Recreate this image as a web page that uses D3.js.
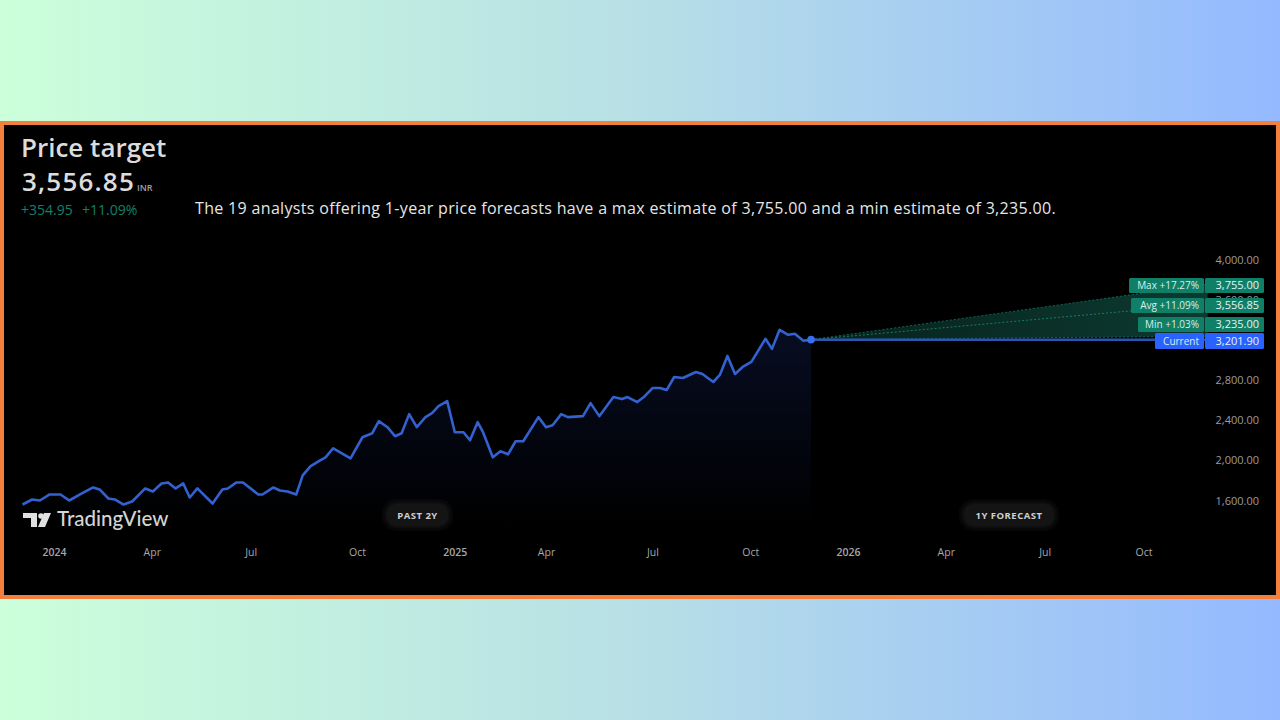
<!DOCTYPE html>
<html>
<head>
<meta charset="utf-8">
<script src="https://cdn.jsdelivr.net/npm/d3@7.9.0/dist/d3.min.js"></script>
<style>
  html, body { margin: 0; padding: 0; background: #000; overflow: hidden; }
  svg { display: block; }
  text { font-family: "Open Sans", "Noto Sans", sans-serif; }
</style>
</head>
<body>
<svg id="chart" width="1280" height="720"></svg>
<script>
// days since 1 Jan 2024 and the close
const closeDays = [-29,-20,-13,-4,6,14,24,36,42,50,56,64,72,84,91,99,105,112,119,125,132,146,155,160,168,174,188,192,202,208,215,223,229,236,245,250,257,265,273,284,293,299,307,314,320,327,334,342,348,354,362,369,377,383,390,395,404,411,418,425,432,446,453,459,467,473,487,494,502,515,523,528,537,543,551,558,564,571,579,591,597,607,613,620,627,634,642,655,661,668,676,682,690,697];
const closes = [1560,1610,1600,1660,1660,1600,1660,1730,1710,1620,1610,1560,1590,1720,1690,1770,1780,1720,1770,1630,1720,1570,1710,1720,1780,1780,1660,1660,1730,1700,1690,1660,1850,1940,2000,2030,2120,2070,2020,2230,2270,2390,2330,2240,2270,2460,2330,2430,2470,2540,2590,2280,2280,2200,2380,2280,2030,2090,2060,2190,2190,2430,2330,2350,2460,2430,2440,2570,2440,2630,2610,2630,2580,2630,2720,2720,2700,2830,2820,2880,2860,2780,2850,3040,2860,2930,2980,3210,3110,3300,3250,3260,3190,3201.9];

const tickDays = [0,90,181,279,369,453,551,641,731,821,912,1003];
const tickNames = ['2024','Apr','Jul','Oct','2025','Apr','Jul','Oct','2026','Apr','Jul','Oct'];
const priceTicks = [1600,2000,2400,2800,3200,3600,4000];

const currentPrice = 3201.9;
const maxTarget = 3755;
const avgTarget = 3556.85;
const minTarget = 3235;
const forecastDays = [697, 1062];

const labelNames = ['Max +17.27%','Avg +11.09%','Min +1.03%','Current'];
const labelValues = ['3,755.00','3,556.85','3,235.00','3,201.90'];

const svg = d3.select('#chart');
const defs = svg.append('defs');

const bg = defs.append('linearGradient').attr('id', 'bg');
bg.append('stop').attr('offset', '0%').attr('stop-color', '#ccffda');
bg.append('stop').attr('offset', '50%').attr('stop-color', '#b7dfe6');
bg.append('stop').attr('offset', '100%').attr('stop-color', '#94b9ff');

const under = defs.append('linearGradient').attr('id', 'under').attr('x1', 0).attr('x2', 0).attr('y1', 0).attr('y2', 1);
under.append('stop').attr('offset', '0%').attr('stop-color', '#070d22');
under.append('stop').attr('offset', '100%').attr('stop-color', '#000');

const fan = defs.append('linearGradient').attr('id', 'fan');
fan.append('stop').attr('offset', '0%').attr('stop-color', '#07211c');
fan.append('stop').attr('offset', '100%').attr('stop-color', '#0c3a30');

defs.append('filter').attr('id', 'glow').attr('x', '-30%').attr('y', '-60%').attr('width', '160%').attr('height', '220%')
  .append('feGaussianBlur').attr('stdDeviation', 5);

svg.append('rect').attr('width', 1280).attr('height', 720).attr('fill', 'url(#bg)');
svg.append('rect').attr('x', 2).attr('y', 123).attr('width', 1276).attr('height', 474)
  .attr('fill', '#000').attr('stroke', '#f27f3b').attr('stroke-width', 4);

const xScale = d3.scaleLinear().domain([0, 731]).range([54, 848]);
const yScale = d3.scaleLinear().domain([1600, 4000]).range([500.5, 259.5]);

// area under the past prices
const area = d3.area().x((d, i) => xScale(closeDays[i])).y0(526).y1(d => yScale(d));
svg.append('path').datum(closes).attr('d', area).attr('fill', 'url(#under)');

// forecast fan
const fanArea = d3.area().x(d => xScale(d)).y0((d, i) => yScale(i ? minTarget : currentPrice)).y1((d, i) => yScale(i ? maxTarget : currentPrice));
svg.append('path').datum(forecastDays).attr('d', fanArea).attr('fill', 'url(#fan)');

const fline = d3.line().x((d, i) => xScale(forecastDays[i])).y(d => yScale(d));
svg.append('path').datum([currentPrice, maxTarget]).attr('d', fline).attr('fill', 'none')
  .attr('stroke', '#146352').attr('stroke-width', 1).attr('stroke-dasharray', '2 2');
svg.append('path').datum([currentPrice, avgTarget]).attr('d', fline).attr('fill', 'none')
  .attr('stroke', '#1a7a64').attr('stroke-width', 1).attr('stroke-dasharray', '2 2');
svg.append('path').datum([currentPrice, minTarget]).attr('d', fline).attr('fill', 'none')
  .attr('stroke', '#146352').attr('stroke-width', 1).attr('stroke-dasharray', '2 2');
svg.append('path').datum([currentPrice, currentPrice]).attr('d', fline).attr('fill', 'none')
  .attr('stroke', '#2a56b0').attr('stroke-width', 2.5);

// price line
const line = d3.line().x((d, i) => xScale(closeDays[i])).y(d => yScale(d));
svg.append('path').datum(closes).attr('d', line).attr('fill', 'none')
  .attr('stroke', '#3461d0').attr('stroke-width', 2.6).attr('stroke-linejoin', 'round');
svg.append('circle').attr('cx', xScale(697)).attr('cy', yScale(currentPrice)).attr('r', 3.8).attr('fill', '#3a6cf0');

// axes
const xAxis = d3.axisBottom(xScale).tickValues(tickDays).tickFormat((d, i) => tickNames[i]).tickSize(0);
const xg = svg.append('g').attr('transform', 'translate(0,546)').call(xAxis);
xg.select('.domain').remove();
xg.selectAll('text').attr('fill', '#a8a8a8').attr('font-size', 10.5).attr('font-weight', (d, i) => /^20/.test(tickNames[i]) ? 600 : 400)
  .style('font-family', '"Open Sans", sans-serif');

const yAxis = d3.axisLeft(yScale).tickValues(priceTicks).tickFormat(d3.format(',.2f')).tickSize(0);
const yg = svg.append('g').attr('transform', 'translate(1262,0)').call(yAxis);
yg.select('.domain').remove();
yg.selectAll('text').attr('fill', '#9c9c9c').attr('font-size', 11).style('font-family', '"Open Sans", sans-serif');

// price labels on the right, pushed apart as in the original
const labelY = [278, 298, 317, 333];
const labelH = [15, 15, 15, 16];
const labelLeft = [1129, 1131, 1138, 1155];
const labelFill = ['#0f7f68', '#0f7f68', '#0f7f68', '#2962ff'];
labelNames.forEach((name, i) => {
  const g = svg.append('g');
  g.append('rect').attr('x', labelLeft[i]).attr('y', labelY[i]).attr('width', 1204 - labelLeft[i]).attr('height', labelH[i]).attr('rx', 1.5).attr('fill', labelFill[i]);
  g.append('rect').attr('x', 1205).attr('y', labelY[i]).attr('width', 59).attr('height', labelH[i]).attr('rx', 1.5).attr('fill', labelFill[i]);
  g.append('text').attr('x', 1199).attr('y', labelY[i] + labelH[i] / 2 + 3.5).attr('text-anchor', 'end')
    .attr('font-size', 10).attr('fill', '#d8efe9').text(name);
  g.append('text').attr('x', 1259).attr('y', labelY[i] + labelH[i] / 2 + 3.8).attr('text-anchor', 'end')
    .attr('font-size', 11).attr('fill', '#e6f4f0').text(labelValues[i]);
});

// header
svg.append('text').attr('x', 21).attr('y', 157).attr('font-size', 26).attr('font-weight', 600).attr('fill', '#dcdcdc').text('Price target');
svg.append('text').attr('x', 22).attr('y', 191).attr('font-size', 26).attr('font-weight', 600).attr('letter-spacing', 1.2).attr('fill', '#dcdcdc').text('3,556.85');
svg.append('text').attr('x', 137).attr('y', 191).attr('font-size', 9).attr('font-weight', 600).attr('fill', '#a0a0a0').text('INR');
svg.append('text').attr('x', 21).attr('y', 215).attr('font-size', 14).attr('fill', '#14806a').text('+354.95');
svg.append('text').attr('x', 82).attr('y', 215).attr('font-size', 14).attr('fill', '#14806a').text('+11.09%');
svg.append('text').attr('x', 195).attr('y', 214).attr('font-size', 16).attr('letter-spacing', 0.33).attr('fill', '#e6e6e6')
  .text('The 19 analysts offering 1-year price forecasts have a max estimate of 3,755.00 and a min estimate of 3,235.00.');

// period badges
const badgeNames = ['PAST 2Y', '1Y FORECAST'];
const badgeX = [388, 965];
const badgeW = [59, 88];
badgeNames.forEach((name, i) => {
  svg.append('rect').attr('x', badgeX[i]).attr('y', 505).attr('width', badgeW[i]).attr('height', 20).attr('rx', 6)
    .attr('fill', '#2a2a2a').attr('filter', 'url(#glow)');
  svg.append('rect').attr('x', badgeX[i]).attr('y', 505).attr('width', badgeW[i]).attr('height', 20).attr('rx', 6).attr('fill', '#141414');
  svg.append('text').attr('x', badgeX[i] + badgeW[i] / 2).attr('y', 518.5).attr('text-anchor', 'middle')
    .attr('font-size', 9.5).attr('font-weight', 700).attr('letter-spacing', 0.5).attr('fill', '#d0d0d0').text(name);
});

// TradingView logo
const logo = svg.append('g').attr('fill', '#e0e0e0');
logo.append('path').attr('d', 'M23 513h14v14h-6v-9h-8z');
logo.append('circle').attr('cx', 41).attr('cy', 516).attr('r', 2.8);
logo.append('path').attr('d', 'M44 513h7l-6 14h-7z');
svg.append('text').attr('x', 57).attr('y', 526).attr('font-size', 20.5).attr('fill', '#d4d4d4')
  .style('font-family', 'Lato, sans-serif').attr('font-weight', 500).text('TradingView');
</script>
</body>
</html>
